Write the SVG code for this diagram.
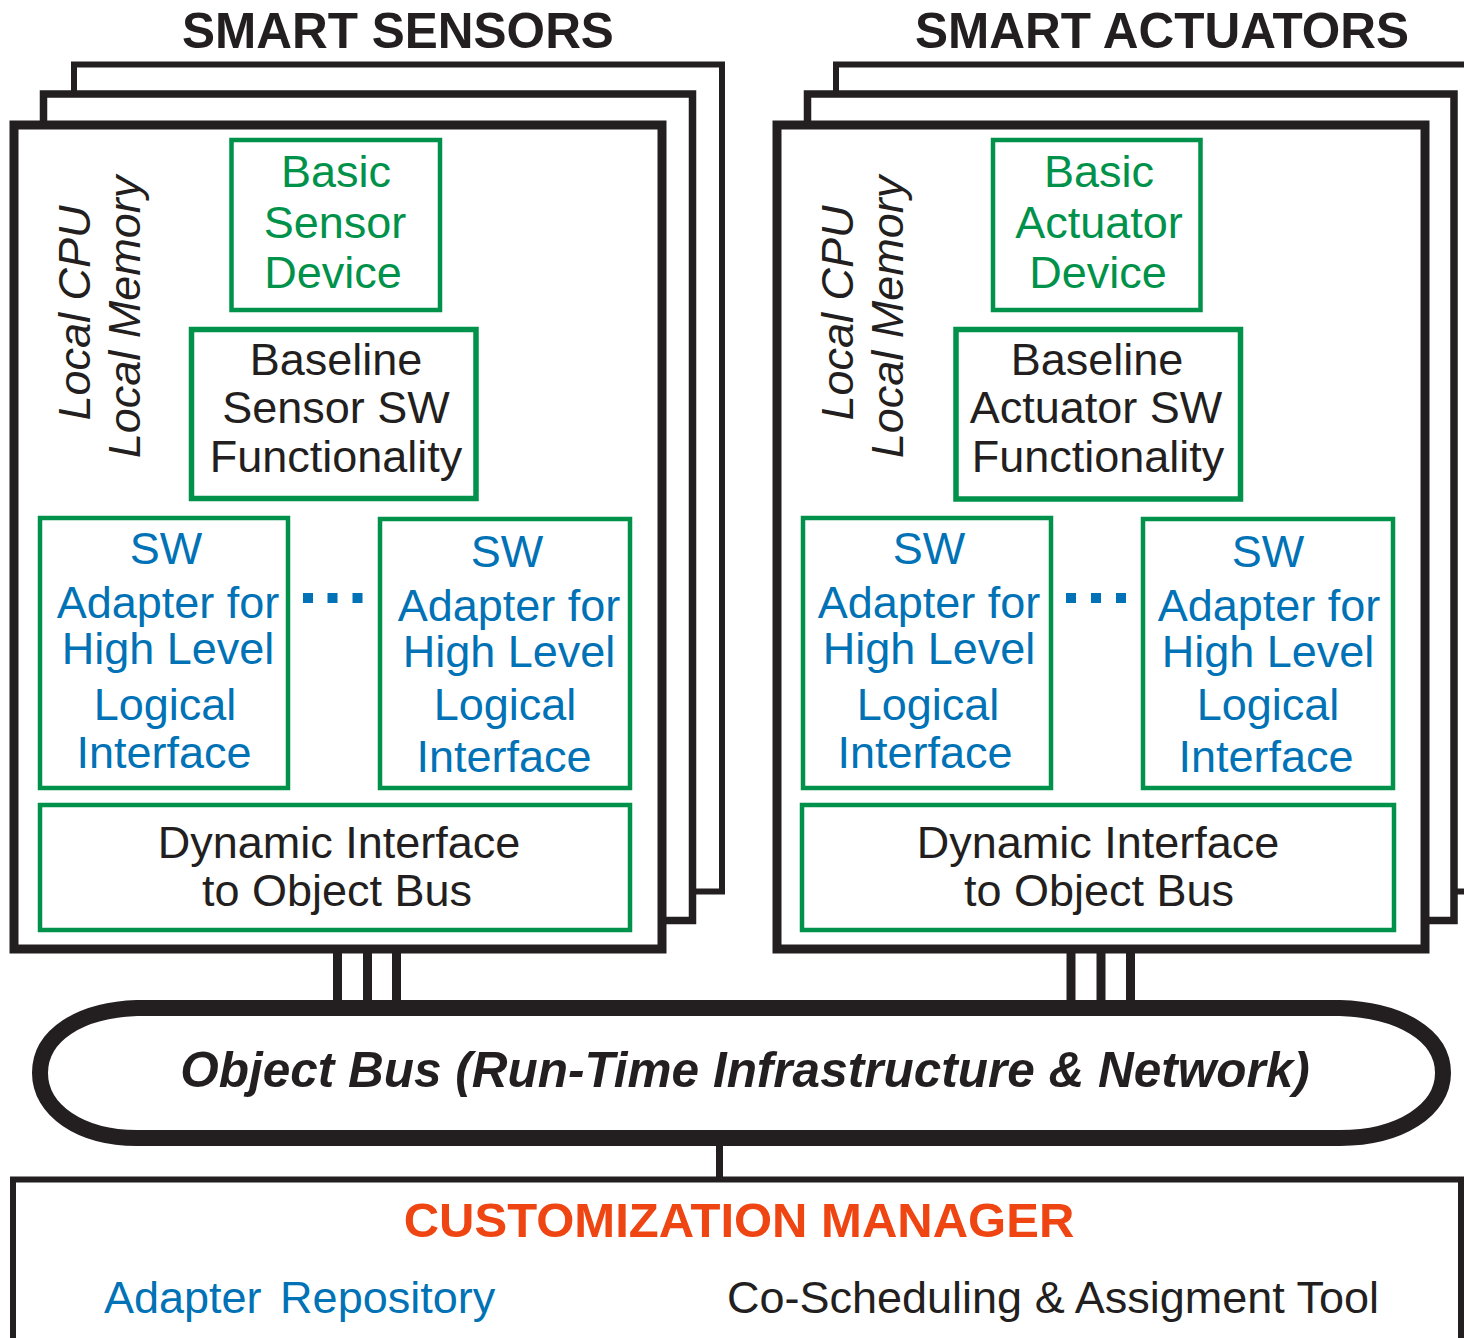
<svg xmlns="http://www.w3.org/2000/svg" width="1464" height="1338" viewBox="0 0 1464 1338">
<style>
text { font-family: "Liberation Sans", Arial, sans-serif; }
.frame { fill: #ffffff; stroke: #231f20; }
.g { fill: #ffffff; stroke: #00924a; }
.tg { fill: #00924a; font-size: 45px; text-anchor: middle; }
.tb { fill: #231f20; font-size: 45px; text-anchor: middle; }
.tbl { fill: #0072b5; font-size: 45px; text-anchor: middle; }
.title { fill: #231f20; font-size: 49.5px; font-weight: bold; text-anchor: middle; }
.rot { fill: #231f20; font-size: 45px; font-style: italic; text-anchor: middle; }
.dot { fill: #0072b5; }
.bar { stroke: #231f20; stroke-width: 9; }
</style>
<rect width="1464" height="1338" fill="#ffffff"/>

<g id="title-sensors"><text class="title" x="398" y="48">SMART SENSORS</text></g>
<g id="title-actuators"><text class="title" x="1162" y="48">SMART ACTUATORS</text></g>

<g id="sensors-stack">
  <rect class="frame" x="74" y="64.5" width="648" height="827" stroke-width="6"/>
  <rect class="frame" x="43.5" y="94" width="649" height="826.5" stroke-width="7.5"/>
  <rect class="frame" x="14" y="125" width="648" height="824" stroke-width="9"/>
  <text class="rot" transform="translate(90,313) rotate(-90)">Local CPU</text>
  <text class="rot" transform="translate(140,317) rotate(-90)">Local Memory</text>
</g>

<g id="basic-sensor-device">
  <rect class="g" x="231.5" y="140" width="208.5" height="170" stroke-width="4.5"/>
  <text class="tg" x="336" y="187">Basic</text>
  <text class="tg" x="335" y="238">Sensor</text>
  <text class="tg" x="333" y="288">Device</text>
</g>
<g id="baseline-sensor-sw">
  <rect class="g" x="191.5" y="329.5" width="284.5" height="169" stroke-width="5.5"/>
  <text class="tb" x="336" y="375">Baseline</text>
  <text class="tb" x="336" y="423">Sensor SW</text>
  <text class="tb" x="336" y="472">Functionality</text>
</g>
<g id="sensor-adapter-1">
  <rect class="g" x="40" y="518" width="248" height="270" stroke-width="4.5"/>
  <text class="tbl" x="166" y="564">SW</text>
  <text class="tbl" x="168" y="618">Adapter for</text>
  <text class="tbl" x="168" y="664">High Level</text>
  <text class="tbl" x="165" y="720">Logical</text>
  <text class="tbl" x="164" y="768">Interface</text>
</g>
<g id="sensor-dots">
  <rect class="dot" x="303" y="593" width="10" height="10"/>
  <rect class="dot" x="327.5" y="593" width="10" height="10"/>
  <rect class="dot" x="352.5" y="593" width="10" height="10"/>
</g>
<g id="sensor-adapter-2">
  <rect class="g" x="380" y="519" width="250" height="269" stroke-width="4.5"/>
  <text class="tbl" x="507" y="567">SW</text>
  <text class="tbl" x="509" y="621">Adapter for</text>
  <text class="tbl" x="509" y="667">High Level</text>
  <text class="tbl" x="505" y="720">Logical</text>
  <text class="tbl" x="504" y="772">Interface</text>
</g>
<g id="sensor-dynamic-interface">
  <rect class="g" x="40" y="805" width="590" height="125" stroke-width="4.5"/>
  <text class="tb" x="339" y="858">Dynamic Interface</text>
  <text class="tb" x="337" y="906">to Object Bus</text>
</g>

<g id="actuators-stack">
  <rect class="frame" x="836" y="64.5" width="700" height="827" stroke-width="6"/>
  <rect class="frame" x="807.5" y="94" width="646.5" height="826.5" stroke-width="7.5"/>
  <rect class="frame" x="777" y="125" width="648" height="824" stroke-width="9"/>
  <text class="rot" transform="translate(853,313) rotate(-90)">Local CPU</text>
  <text class="rot" transform="translate(903,317) rotate(-90)">Local Memory</text>
</g>

<g id="basic-actuator-device">
  <rect class="g" x="993" y="140" width="207.5" height="170" stroke-width="4.5"/>
  <text class="tg" x="1099" y="187">Basic</text>
  <text class="tg" x="1099" y="238">Actuator</text>
  <text class="tg" x="1098" y="288">Device</text>
</g>
<g id="baseline-actuator-sw">
  <rect class="g" x="956" y="329.5" width="284.5" height="169.5" stroke-width="5.5"/>
  <text class="tb" x="1097" y="375">Baseline</text>
  <text class="tb" x="1096" y="423">Actuator SW</text>
  <text class="tb" x="1098" y="472">Functionality</text>
</g>
<g id="actuator-adapter-1">
  <rect class="g" x="803" y="518" width="248" height="270" stroke-width="4.5"/>
  <text class="tbl" x="929" y="564">SW</text>
  <text class="tbl" x="929" y="618">Adapter for</text>
  <text class="tbl" x="929" y="664">High Level</text>
  <text class="tbl" x="928" y="720">Logical</text>
  <text class="tbl" x="925" y="768">Interface</text>
</g>
<g id="actuator-dots">
  <rect class="dot" x="1066" y="593" width="10" height="10"/>
  <rect class="dot" x="1091" y="593" width="10" height="10"/>
  <rect class="dot" x="1116" y="593" width="10" height="10"/>
</g>
<g id="actuator-adapter-2">
  <rect class="g" x="1143" y="519" width="250" height="269" stroke-width="4.5"/>
  <text class="tbl" x="1268" y="567">SW</text>
  <text class="tbl" x="1269" y="621">Adapter for</text>
  <text class="tbl" x="1268" y="667">High Level</text>
  <text class="tbl" x="1268" y="720">Logical</text>
  <text class="tbl" x="1266" y="772">Interface</text>
</g>
<g id="actuator-dynamic-interface">
  <rect class="g" x="802" y="805" width="592" height="125" stroke-width="4.5"/>
  <text class="tb" x="1098" y="858">Dynamic Interface</text>
  <text class="tb" x="1099" y="906">to Object Bus</text>
</g>

<g id="connectors">
  <line class="bar" x1="337.5" y1="953" x2="337.5" y2="1003"/>
  <line class="bar" x1="367.5" y1="953" x2="367.5" y2="1003"/>
  <line class="bar" x1="396.5" y1="953" x2="396.5" y2="1003"/>
  <line class="bar" x1="1071" y1="953" x2="1071" y2="1003"/>
  <line class="bar" x1="1101" y1="953" x2="1101" y2="1003"/>
  <line class="bar" x1="1130.5" y1="953" x2="1130.5" y2="1003"/>
  <line x1="719.5" y1="1144" x2="719.5" y2="1180" stroke="#231f20" stroke-width="7"/>
</g>

<g id="object-bus">
  <path d="M137,1008 L1340,1008 C1400,1010 1443,1035 1443,1073 C1443,1110 1400,1138 1340,1138 L137,1138 C80,1138 40,1110 40,1073 C40,1035 80,1010 137,1008 Z" fill="#ffffff" stroke="#231f20" stroke-width="16" stroke-linejoin="round"/>
  <text x="745" y="1087" fill="#231f20" font-size="49.5" font-weight="bold" font-style="italic" text-anchor="middle">Object Bus (Run-Time Infrastructure &amp; Network)</text>
</g>

<g id="customization-manager">
  <rect x="13" y="1179.5" width="1448" height="300" fill="#ffffff" stroke="#231f20" stroke-width="6"/>
  <text x="739" y="1237" fill="#ee4512" font-size="49" font-weight="bold" text-anchor="middle">CUSTOMIZATION MANAGER</text>
  <text x="104" y="1313" fill="#0072b5" font-size="45" word-spacing="6">Adapter Repository</text>
  <text x="1053" y="1313" fill="#231f20" font-size="45" text-anchor="middle">Co-Scheduling &amp; Assigment Tool</text>
</g>
</svg>
